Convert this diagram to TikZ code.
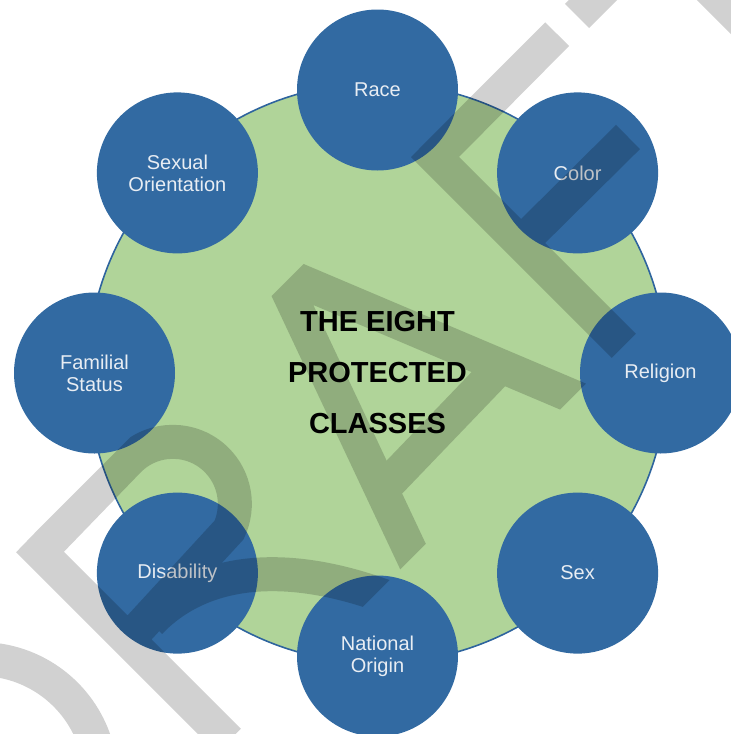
\documentclass[tikz,border=0pt]{standalone}
\usepackage{fontspec}
\setmainfont{Liberation Sans}

\definecolor{hubfill}{RGB}{176,212,153}
\definecolor{hubline}{RGB}{46,100,158}
\definecolor{clsfill}{RGB}{50,106,162}
\definecolor{clstext}{RGB}{232,237,243}

\begin{document}
\begin{tikzpicture}[
			x=1pt, y=-1pt,
			hub/.style={circle, draw=hubline, line width=1.6pt, fill=hubfill, minimum size=580pt, inner sep=0pt, align=center, font=\fontsize{29}{51}\selectfont\bfseries},
			cls/.style={circle, fill=clsfill, minimum size=161pt, inner sep=0pt, align=center, text=clstext, font=\fontsize{20}{22}\selectfont},
			stamp/.style={draw=black, line width=34pt}
			]
			
			\path[use as bounding box, clip] (0,0) rectangle (731,734);
			
			% --- Centre disc ---
			\node[hub] (hub) at (377.5,373) {THE EIGHT\\PROTECTED\\CLASSES};
			
			% --- The eight classes, clockwise from the top ---
			\node[cls] (race) at (377.5,90) {Race};
			\node[cls] (color) at (577.6,172.9) {Color};
			\node[cls] (religion) at (660.5,373) {Religion};
			\node[cls] (sex) at (577.6,573.1) {Sex};
			\node[cls] (origin) at (377.5,656) {National\\Origin};
			\node[cls] (disability) at (177.4,573.1) {Disability};
			\node[cls] (familial) at (94.5,373) {Familial\\Status};
			\node[cls] (orientation) at (177.4,172.9) {Sexual\\Orientation};
			
			% --- DRAFT stamp over the page ---
			\begin{scope}[transparency group, opacity=0.18]
				\clip (-300,867.5) -- (867.5,-300) -- (1269.5,-300) -- (-300,1269.5) -- cycle;
				% D
				\draw[stamp] (-20,780) ++(-100:121) arc[start angle=-100, end angle=-5, radius=121];
				% R
				\draw[stamp] (262,774) -- (40,552) -- (129,460) arc[start angle=225, end angle=385, radius=62] -- (128,640);
				\draw[stamp] (150,622) .. controls (200,570) and (280,560) .. (378,594) -- (410,605);
				% A
				\draw[stamp, line join=bevel] (425,582) -- (279,272) -- (600,408);
				\draw[stamp] (382,490) -- (500,367);
				% F
				\draw[stamp] (557,34) -- (435,157) -- (645,367);
				\draw[stamp] (521,243) -- (628,137);
				% T
				\draw[stamp] (577,16) -- (720,-127);
				\draw[stamp] (657,-64) -- (820,99);
			\end{scope}
			
\end{tikzpicture}
\end{document}
